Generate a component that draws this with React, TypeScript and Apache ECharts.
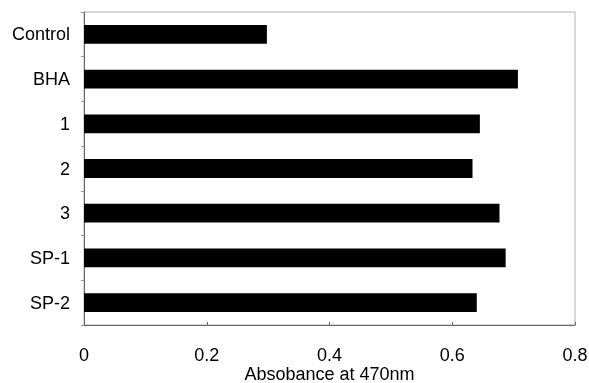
import React, { useEffect, useRef } from "react";
import * as echarts from "echarts";

const categories = ["Control", "BHA", "1", "2", "3", "SP-1", "SP-2"];
const absorbance = [0.298, 0.707, 0.645, 0.633, 0.677, 0.687, 0.64];
const xTicks = [0, 0.2, 0.4, 0.6, 0.8];

export default function App() {
  const ref = useRef<HTMLDivElement>(null);
  useEffect(() => {
    if (!ref.current) return;
    const chart = echarts.init(ref.current, null, { renderer: "svg" });
    const font = "Liberation Sans, Arial, sans-serif";
    chart.setOption({
      animation: false,
      grid: {
        left: 84,
        top: 12,
        right: 14,
        bottom: 58,
        outerBoundsMode: "none",
        containLabel: false,
        show: true,
        borderColor: "#b0b0b0",
        borderWidth: 1,
        backgroundColor: "transparent",
      },
      xAxis: {
        type: "value",
        min: xTicks[0],
        max: xTicks[xTicks.length - 1],
        interval: 0.2,
        name: "Absobance at 470nm",
        nameLocation: "middle",
        nameGap: 41,
        nameMoveOverlap: false,
        nameTextStyle: { color: "#000", fontSize: 18, fontFamily: font, lineHeight: 16 },
        axisLine: { show: true, lineStyle: { color: "#666", width: 1 } },
        axisTick: { show: true, inside: true, length: 3, lineStyle: { color: "#666" } },
        axisLabel: {
          color: "#000",
          fontSize: 18,
          fontFamily: font,
          lineHeight: 18,
          margin: 21,
          formatter: (v: number) => (v === 0 ? "0" : String(Math.round(v * 10) / 10)),
        },
        splitLine: { show: false },
      },
      yAxis: {
        type: "category",
        data: categories,
        inverse: true,
        axisLine: { show: true, lineStyle: { color: "#666", width: 1 } },
        axisTick: { show: true, length: 3, lineStyle: { color: "#999" } },
        axisLabel: { color: "#000", fontSize: 18, fontFamily: font, margin: 14 },
        splitLine: { show: false },
      },
      series: [
        {
          type: "bar",
          data: absorbance,
          barWidth: "42%",
          itemStyle: { color: "#000" },
        },
      ],
    });
    return () => chart.dispose();
  }, []);
  return (
    <div
      ref={ref}
      style={{ position: "fixed", left: 0, top: 0, width: 589, height: 383 }}
    />
  );
}
